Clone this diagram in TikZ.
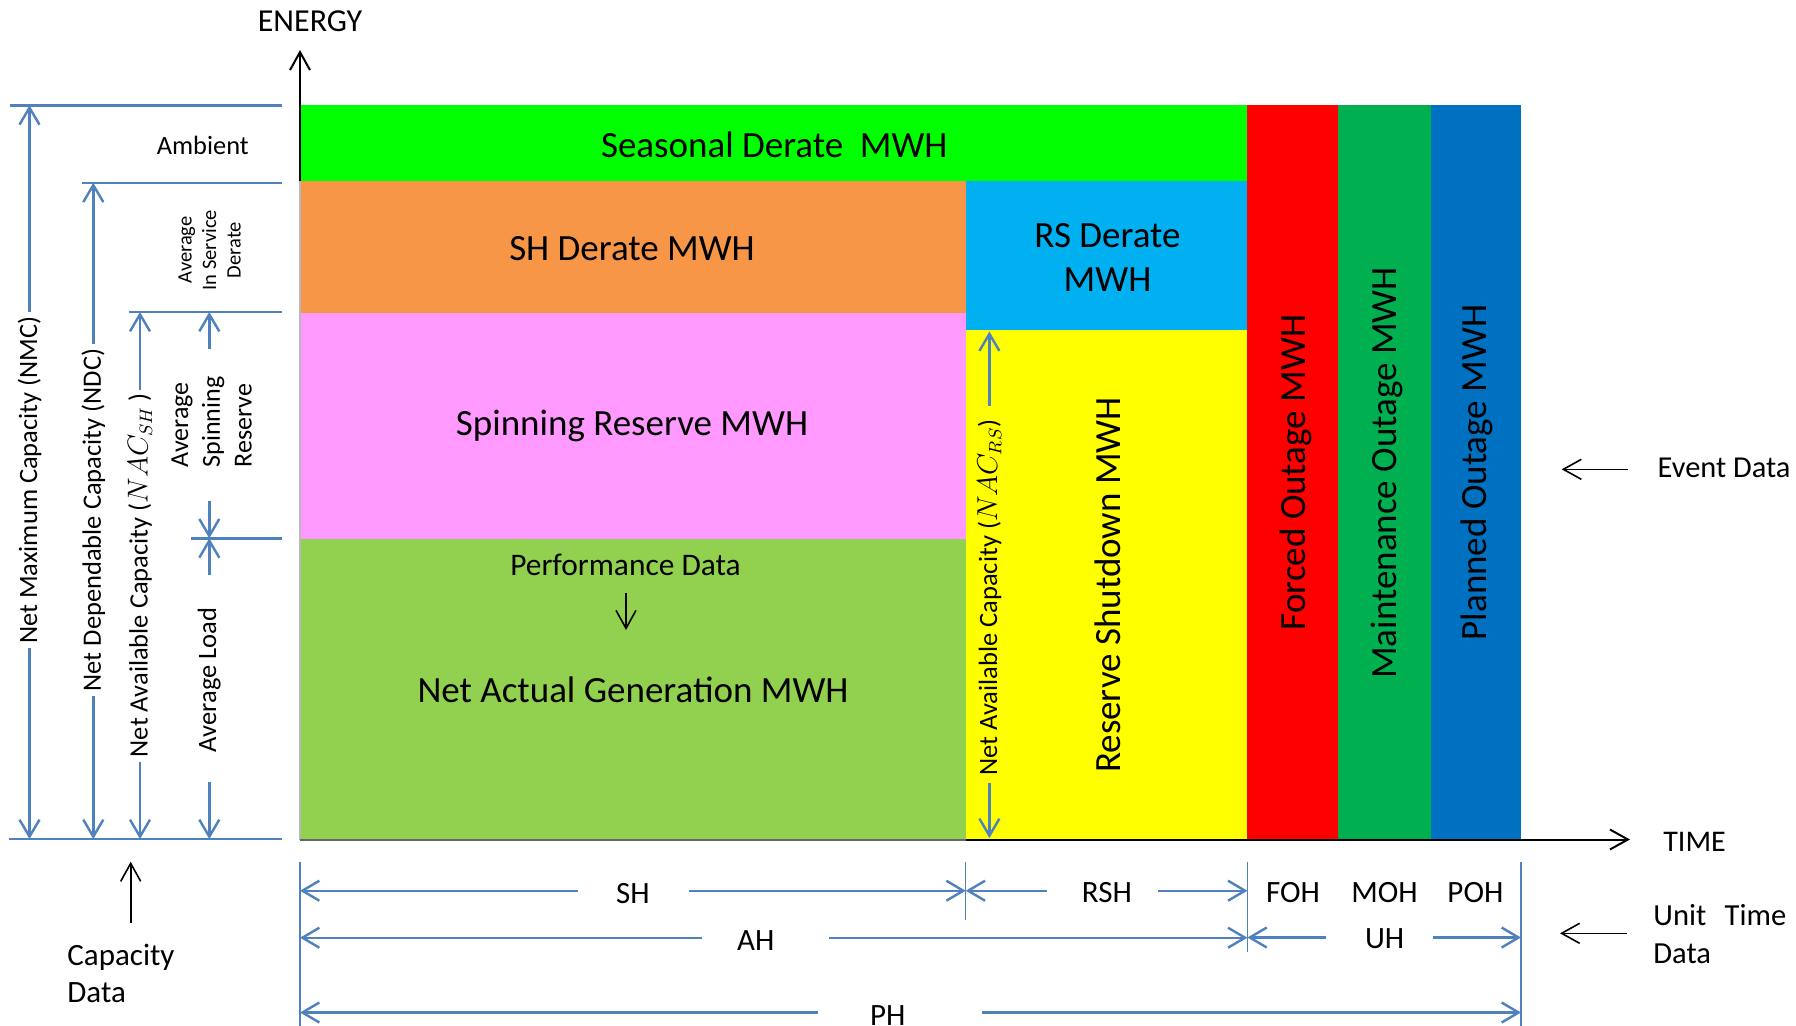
\documentclass[tikz,border=0pt]{standalone}
\usepackage{fontspec}
\setmainfont{Carlito}
\usetikzlibrary{arrows.meta}
\definecolor{lineblue}{HTML}{4F81BD}
\definecolor{cSeason}{HTML}{00FF00}
\definecolor{cSHder}{HTML}{F79646}
\definecolor{cRSder}{HTML}{00B0F0}
\definecolor{cSpin}{HTML}{FF99FF}
\definecolor{cGen}{HTML}{92D050}
\definecolor{cRes}{HTML}{FFFF00}
\definecolor{cForced}{HTML}{FF0000}
\definecolor{cMaint}{HTML}{00B050}
\definecolor{cPlan}{HTML}{0070C0}
\newcommand{\fBig}{\fontsize{18.5}{22.3}\selectfont}
\newcommand{\fMed}{\fontsize{15.5}{18.6}\selectfont}
\newcommand{\fSm}{\fontsize{13.25}{15.9}\selectfont}
\newcommand{\fTiny}{\fontsize{10.25}{12.25}\selectfont}
\begin{document}
\begin{tikzpicture}[x=0.5pt,y=-0.5pt,
  blueline/.style={draw=lineblue,line width=1.2pt},
  bluearrow/.style={draw=lineblue,line width=1.2pt,-{Straight Barb[length=8.5pt,width=10pt]}},
  blackarrow/.style={draw=black,line width=1pt,-{Straight Barb[length=9pt,width=10pt]}},
  tickline/.style={draw=lineblue,line width=0.7pt},
  lbl/.style={inner sep=0pt,text=black},
  rlbl/.style={rotate=90,inner sep=2pt,text=black}
]
\useasboundingbox (0,0) rectangle (1796,1025);
\fill[white] (0,0) rectangle (1796,1025);
% ---------- boxes
\fill[cSeason] (300,105) rectangle (1247.4,181);
\fill[cSHder] (300,181) rectangle (965.7,313);
\fill[cRSder] (965.7,181) rectangle (1247.4,329.6);
\fill[cSpin] (300,313) rectangle (965.7,538.6);
\fill[cGen] (300,538.6) rectangle (965.7,839.5);
\fill[cRes] (965.7,329.6) rectangle (1247.4,839.5);
\fill[cForced] (1247.4,105) rectangle (1338.3,839.5);
\fill[cMaint] (1338.3,105) rectangle (1430.9,839.5);
\fill[cPlan] (1430.9,105) rectangle (1521,839.5);
% ---------- axes
\coordinate (origin) at (300,839.5);
\coordinate (ytop) at (300,181);
\coordinate (ytip) at (300,50);
\coordinate (xmid) at (965.7,839.5);
\coordinate (xtip) at (1630,839.5);
\draw[gray!55,line width=0.8pt] (origin) -- (ytop);
\draw[gray!80!black,line width=1pt] (origin) -- (xmid);
\draw[blackarrow] (ytop) -- (ytip);
\draw[blackarrow] (xmid) -- (xtip);
\node[lbl,font=\fontsize{16}{19}\selectfont] (energy) at (310,21.7) {ENERGY};
\node[lbl,font=\fontsize{15}{18}\selectfont] (time) at (1694.6,841.7) {TIME};
% ---------- box labels
\node[lbl,font=\fBig] (season) at (774.3,145) {Seasonal Derate\hspace{0.45em}MWH};
\node[lbl,font=\fBig] (shder) at (632,248.3) {SH Derate MWH};
\node[lbl,font=\fBig,align=center] (rsder) at (1107.5,257.3) {RS Derate\\MWH};
\node[lbl,font=\fBig] (spin) at (632,426) {Spinning Reserve MWH};
\node[lbl,font=\fontsize{15.7}{18.8}\selectfont] (perf) at (625.5,565) {Performance Data};
\node[lbl,font=\fBig] (gen) at (633,690) {Net Actual Generation MWH};
\node[lbl,font=\fBig,rotate=90] (resshut) at (1108,585) {Reserve Shutdown MWH};
\node[lbl,font=\fBig,rotate=90] (forced) at (1295.5,472.5) {Forced Outage MWH};
\node[lbl,font=\fBig,rotate=90] (maint) at (1386.8,473) {Maintenance Outage MWH};
\node[lbl,font=\fBig,rotate=90] (plan) at (1477,472.5) {Planned Outage MWH};
\coordinate (perfA) at (626,592.7);
\coordinate (perfB) at (626,630);
\draw[blackarrow,line width=0.8pt] (perfA) -- (perfB);
% NAC RS
\node[rlbl,font=\fSm] (nacrs) at (989.4,597.6) {Net Available Capacity ($NAC_{RS}$)};
\coordinate (rsA) at (989.4,405.5);
\coordinate (rsAt) at (989.4,331.5);
\coordinate (rsB) at (989.4,782.8);
\coordinate (rsBt) at (989.4,838);
\draw[bluearrow] (rsA) -- (rsAt);
\draw[bluearrow] (rsB) -- (rsBt);
% ---------- left capacity scale
\coordinate (h1a) at (9.6,105.3);  \coordinate (h1b) at (282,105.3);
\coordinate (h2a) at (82,182.7);   \coordinate (h2b) at (282,182.7);
\coordinate (h3a) at (128.6,312);  \coordinate (h3b) at (282,312);
\coordinate (h4a) at (191,538.3);  \coordinate (h4b) at (282,538.3);
\coordinate (h5a) at (9,839);      \coordinate (h5b) at (282,839);
\draw[blueline] (h1a) -- (h1b);
\draw[blueline] (h2a) -- (h2b);
\draw[blueline] (h3a) -- (h3b);
\draw[blueline] (h4a) -- (h4b);
\draw[blueline] (h5a) -- (h5b);
\node[lbl,font=\fontsize{13.2}{15.8}\selectfont] (ambient) at (202.8,145) {Ambient};
\node[rlbl,font=\fTiny,align=center,inner sep=0pt] (aisd) at (209.7,250) {Average\\In Service\\Derate};
\node[rlbl,font=\fSm] (nmc) at (29.5,480) {Net Maximum Capacity (NMC)};
\node[rlbl,font=\fSm] (ndc) at (93.3,520) {Net Dependable Capacity (NDC)};
\node[rlbl,font=\fSm] (nacsh) at (140,575.5) {Net Available Capacity ($NAC_{SH}$\,)};
\coordinate (nmcT) at (29.5,105.3); \coordinate (nmcB) at (29.5,839);
\coordinate (ndcT) at (93.3,182.7); \coordinate (ndcB) at (93.3,839);
\coordinate (nacT) at (140,312);    \coordinate (nacB) at (140,839);
\draw[bluearrow] (nmc.east) -- (nmcT);
\draw[bluearrow] (nmc.west) -- (nmcB);
\draw[bluearrow] (ndc.east) -- (ndcT);
\draw[bluearrow] (ndc.west) -- (ndcB);
\draw[bluearrow] (nacsh.east) -- (nacT);
\draw[bluearrow] (nacsh.west) -- (nacB);
\node[rlbl,font=\fontsize{13}{15.9}\selectfont,align=left,inner sep=0pt] (asr) at (211.7,422) {Average\\Spinning\\Reserve};
\node[rlbl,font=\fSm,inner sep=0pt] (aload) at (209.3,680) {Average Load};
\coordinate (s1) at (209.3,349);   \coordinate (s1t) at (209.3,312);
\coordinate (s2) at (209.3,501);   \coordinate (s2t) at (209.3,538.3);
\coordinate (s3) at (209.3,575.4); \coordinate (s3t) at (209.3,538.3);
\coordinate (s4) at (209.3,782);   \coordinate (s4t) at (209.3,839);
\draw[bluearrow] (s1) -- (s1t);
\draw[bluearrow] (s2) -- (s2t);
\draw[bluearrow] (s3) -- (s3t);
\draw[bluearrow] (s4) -- (s4t);
% capacity data
\coordinate (capA) at (130.7,923.3);
\coordinate (capB) at (130.7,861.7);
\draw[blackarrow,line width=0.8pt] (capA) -- (capB);
\node[lbl,font=\fontsize{15.5}{18.3}\selectfont,align=left,anchor=west] (capdata) at (67,973.4) {Capacity\\Data};
% event data
\coordinate (evA) at (1628.3,469.3);
\coordinate (evB) at (1561.7,469.3);
\draw[blackarrow,line width=0.8pt] (evA) -- (evB);
\node[lbl,font=\fontsize{15.2}{18}\selectfont,anchor=west] (evdata) at (1657.3,468.3) {Event Data};
% unit time data
\coordinate (utA) at (1626.9,933.3);
\coordinate (utB) at (1560,933.3);
\draw[blackarrow,line width=0.8pt] (utA) -- (utB);
\node[lbl,font=\fontsize{15.3}{19}\selectfont,align=left,anchor=west] (utdata) at (1653,934) {Unit\hspace{0.6em}Time\\Data};
% ---------- bottom time dimensions
\coordinate (t0a) at (300,861.7);    \coordinate (t0b) at (300,1030);
\coordinate (t1a) at (965.7,861.7);  \coordinate (t1b) at (965.7,920);
\coordinate (t2a) at (1247.4,861.7); \coordinate (t2b) at (1247.4,951.7);
\coordinate (t3a) at (1521,861.7);   \coordinate (t3b) at (1521,1030);
\draw[tickline] (t0a) -- (t0b);
\draw[tickline] (t1a) -- (t1b);
\draw[tickline] (t2a) -- (t2b);
\draw[tickline] (t3a) -- (t3b);
% SH
\node[lbl,font=\fMed] (sh) at (633,894) {SH};
\coordinate (shL) at (578.4,890.7); \coordinate (shLt) at (300,890.7);
\coordinate (shR) at (688.8,890.7); \coordinate (shRt) at (965.7,890.7);
\draw[bluearrow] (shL) -- (shLt);
\draw[bluearrow] (shR) -- (shRt);
% RSH
\node[lbl,font=\fMed] (rsh) at (1106.9,892.7) {RSH};
\coordinate (rsL) at (1047.4,890.7); \coordinate (rsLt) at (965.7,890.7);
\coordinate (rsR) at (1158,890.7);   \coordinate (rsRt) at (1247.4,890.7);
\draw[bluearrow] (rsL) -- (rsLt);
\draw[bluearrow] (rsR) -- (rsRt);
\node[lbl,font=\fMed] (foh) at (1293,892.7) {FOH};
\node[lbl,font=\fMed] (moh) at (1384.6,892.7) {MOH};
\node[lbl,font=\fMed] (poh) at (1475.4,892.7) {POH};
% AH
\node[lbl,font=\fMed] (ah) at (755.7,941) {AH};
\coordinate (ahL) at (701.5,937.7); \coordinate (ahLt) at (300,937.7);
\coordinate (ahR) at (829,937.7);   \coordinate (ahRt) at (1247.4,937.7);
\draw[bluearrow] (ahL) -- (ahLt);
\draw[bluearrow] (ahR) -- (ahRt);
% UH
\node[lbl,font=\fMed] (uh) at (1384.6,938.3) {UH};
\coordinate (uhL) at (1325.7,937.5); \coordinate (uhLt) at (1247.4,937.5);
\coordinate (uhR) at (1433,937.5);   \coordinate (uhRt) at (1521,937.5);
\draw[bluearrow] (uhL) -- (uhLt);
\draw[bluearrow] (uhR) -- (uhRt);
% PH
\node[lbl,font=\fMed] (ph) at (887.8,1016) {PH};
\coordinate (phL) at (817.6,1012.5); \coordinate (phLt) at (300,1012.5);
\coordinate (phR) at (981.7,1012.5); \coordinate (phRt) at (1521,1012.5);
\draw[bluearrow] (phL) -- (phLt);
\draw[bluearrow] (phR) -- (phRt);
\end{tikzpicture}
\end{document}
